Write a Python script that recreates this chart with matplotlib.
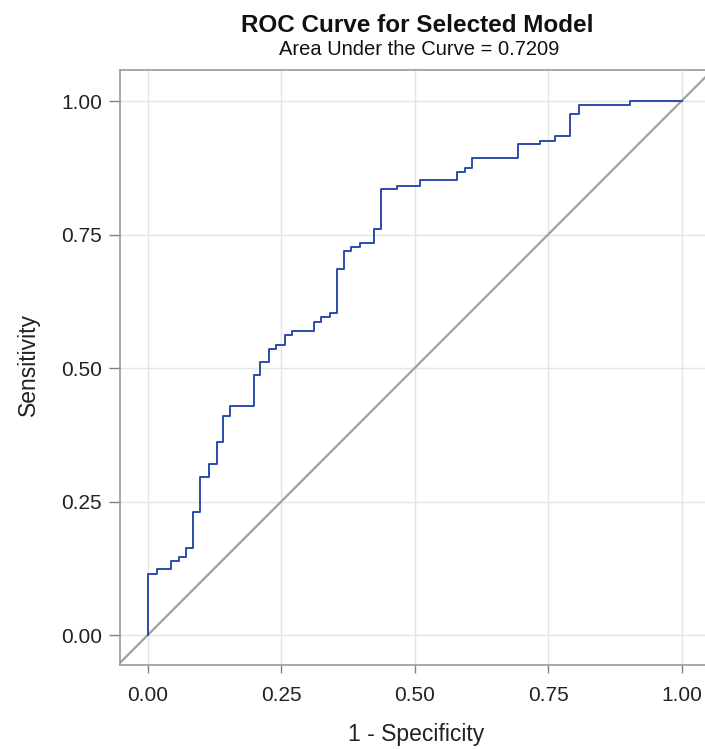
import matplotlib
matplotlib.use("Agg")
import matplotlib.pyplot as plt

# ROC step points (1 - specificity, sensitivity)
fpr = [0.0, 0.0, 0.018, 0.044, 0.059, 0.071, 0.085, 0.099, 0.115, 0.130, 0.142,
       0.155, 0.199, 0.211, 0.227, 0.241, 0.257, 0.271, 0.311, 0.325, 0.341,
       0.355, 0.368, 0.381, 0.397, 0.424, 0.438, 0.468, 0.511, 0.580, 0.594,
       0.608, 0.693, 0.735, 0.763, 0.791, 0.808, 0.904, 1.0]
tpr = [0.0, 0.114, 0.123, 0.139, 0.147, 0.164, 0.231, 0.296, 0.321, 0.362, 0.411,
       0.429, 0.488, 0.511, 0.536, 0.543, 0.562, 0.569, 0.587, 0.595, 0.604,
       0.685, 0.719, 0.727, 0.735, 0.760, 0.835, 0.840, 0.852, 0.868, 0.874,
       0.893, 0.919, 0.925, 0.934, 0.975, 0.993, 1.0, 1.0]
ticks = [0.0, 0.25, 0.5, 0.75, 1.0]
tick_labels = ["0.00", "0.25", "0.50", "0.75", "1.00"]
title = "ROC Curve for Selected Model"
subtitle = "Area Under the Curve = 0.7209"
xlabel = "1 - Specificity"
ylabel = "Sensitivity"

plt.rcParams['font.family'] = ['Liberation Sans', 'DejaVu Sans']

fig = plt.figure(figsize=(7.05, 7.49), dpi=100)
ax = fig.add_axes([0.170, 0.112, 0.830, 0.7945])

xmin, xmax = -0.052, 1.044
ymin, ymax = -0.056, 1.058
ax.set_xlim(xmin, xmax)
ax.set_ylim(ymin, ymax)

ax.plot([-0.1, 1.2], [-0.1, 1.2], color='#A0A0A0', lw=1.6, zorder=2)
ax.plot(fpr, tpr, drawstyle='steps-post', color='#2C4CAA', lw=1.4, zorder=3)

ax.set_xticks(ticks)
ax.set_xticklabels(tick_labels)
ax.set_yticks(ticks)
ax.set_yticklabels(tick_labels)
ax.grid(True, color='#E4E4E4', lw=1.0)
ax.set_axisbelow(True)

for s in ['left', 'bottom', 'top']:
    ax.spines[s].set_color('#999999')
    ax.spines[s].set_linewidth(1.2)
ax.spines['right'].set_visible(False)
ax.tick_params(axis='both', direction='out', color='#808080', width=1,
               labelsize=15, labelcolor='#222222')
ax.tick_params(axis='y', length=8, pad=5)
ax.tick_params(axis='x', length=6, pad=9)

fig.text(0.590, 0.0187, xlabel, ha='center', va='center', fontsize=16.5,
         color='#222222')
fig.text(0.0397, 0.514, ylabel, ha='center', va='center', rotation=90,
         fontsize=16.5, color='#222222')

fig.text(0.592, 0.9573, title, ha='center', va='baseline', fontsize=17.5,
         fontweight='bold', color='#111111')
fig.text(0.594, 0.9266, subtitle, ha='center', va='baseline', fontsize=14.5,
         color='#111111')

fig.savefig("out.png", dpi=100)
